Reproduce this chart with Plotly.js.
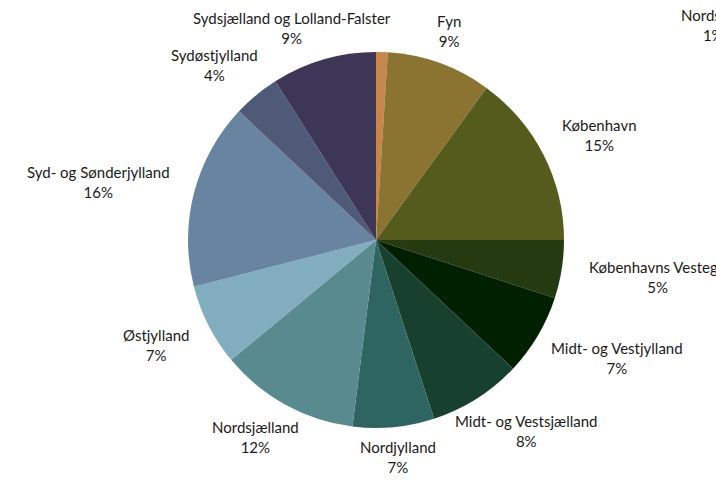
<!DOCTYPE html>
<html>
<head>
<meta charset="utf-8">
<script src="https://cdn.plot.ly/plotly-3.0.1.min.js"></script>
<style>html,body{margin:0;padding:0;background:#fff;}#chart{width:716px;height:480px;}</style>
</head>
<body>
<div id="chart"></div>
<script>
// Data
const regions = ["Nordsøen", "Fyn", "København", "Københavns Vestegn", "Midt- og Vestjylland",
  "Midt- og Vestsjælland", "Nordjylland", "Nordsjælland", "Østjylland",
  "Syd- og Sønderjylland", "Sydøstjylland", "Sydsjælland og Lolland-Falster"];
const shares = [1, 9, 15, 5, 7, 8, 7, 12, 7, 16, 4, 9];
const sliceColors = ["#C8864A", "#8B7431", "#555A1D", "#253A10", "#002000", "#17402F",
  "#2E6560", "#588A8F", "#82ADBF", "#6884A1", "#4F5A78", "#3E3656"];

// Layout settings
const W = 716, H = 480;
const cx = 376, cy = 240, r = 188;
const baseGap = 10, sideGap = 18, halfH = 18;
const fontFamily = "Lato, 'Source Sans Pro', sans-serif";
const fontSize = 15;
// label displaced by the original chart's collision handling
const labelOverride = { 0: { x: 713, y: 25 } };

const total = shares.reduce((a, b) => a + b, 0);
const ctx = document.createElement('canvas').getContext('2d');
ctx.font = fontSize + 'px Lato';

let cum = 0;
const annotations = regions.map((name, i) => {
  const mid = (cum + shares[i] / 2) / total * 2 * Math.PI;
  cum += shares[i];
  const pct = Math.round(shares[i] / total * 100) + '%';
  const w = Math.max(ctx.measureText(name).width, ctx.measureText(pct).width);
  const s = Math.sin(mid), c = Math.cos(mid);
  const R = r + baseGap + sideGap * Math.abs(s);
  let px = cx + R * s + (w / 2) * s;
  let py = cy - R * c - halfH * c;
  if (labelOverride[i]) { px = labelOverride[i].x; py = labelOverride[i].y; }
  return {
    text: name + '<br>' + pct,
    x: px / W, y: 1 - py / H, xref: 'paper', yref: 'paper',
    xanchor: 'center', yanchor: 'middle', align: 'center', showarrow: false,
    font: { family: fontFamily, size: fontSize, color: '#1a1a1a' }
  };
});

const trace = {
  type: 'pie',
  labels: regions,
  values: shares,
  sort: false,
  direction: 'clockwise',
  rotation: 0,
  textinfo: 'none',
  hoverinfo: 'label+percent',
  marker: { colors: sliceColors, line: { width: 0 } },
  domain: { x: [(cx - r) / W, (cx + r) / W], y: [(H - cy - r) / H, (H - cy + r) / H] }
};

const layout = {
  width: W, height: H,
  margin: { l: 0, r: 0, t: 0, b: 0 },
  showlegend: false,
  paper_bgcolor: '#fff',
  annotations: annotations,
  font: { family: fontFamily }
};

Plotly.newPlot('chart', [trace], layout, { displayModeBar: false, staticPlot: true });
</script>
</body>
</html>
